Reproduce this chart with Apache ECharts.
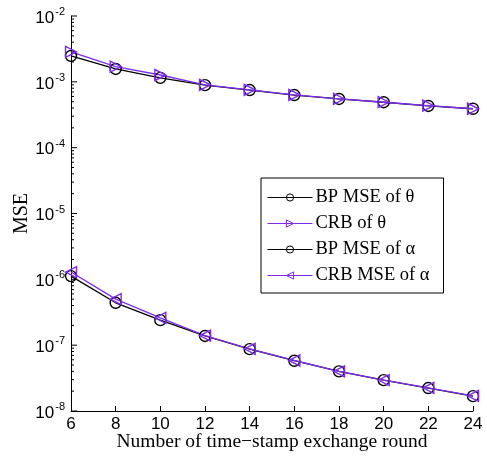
<!DOCTYPE html>
<html>
<head>
<meta charset="utf-8">
<script src="https://cdn.jsdelivr.net/npm/echarts@6/dist/echarts.min.js"></script>
<style>
  html, body { margin: 0; padding: 0; background: #fff; }
  #main { width: 487px; height: 458px; }
</style>
</head>
<body>
<div id="main"></div>
<script>
const rounds = [6, 8, 10, 12, 14, 16, 18, 20, 22, 24];
const bpTheta = [2.47e-3, 1.57e-3, 1.15e-3, 8.9e-4, 7.5e-4, 6.3e-4, 5.5e-4, 4.9e-4, 4.3e-4, 3.9e-4];
const crbTheta = [2.84e-3, 1.70e-3, 1.27e-3, 9.0e-4, 7.55e-4, 6.35e-4, 5.5e-4, 4.9e-4, 4.35e-4, 3.9e-4];
const bpAlpha = [1.12e-6, 4.4e-7, 2.4e-7, 1.38e-7, 8.7e-8, 5.8e-8, 4.0e-8, 2.94e-8, 2.23e-8, 1.68e-8];
const crbAlpha = [1.29e-6, 5.0e-7, 2.6e-7, 1.40e-7, 8.8e-8, 5.85e-8, 4.0e-8, 2.95e-8, 2.25e-8, 1.70e-8];
const yMajor = [1e-8, 1e-7, 1e-6, 1e-5, 1e-4, 1e-3, 1e-2];

// minor tick positions 2..9 x 10^k
const yMinor = [];
for (let k = -8; k < -2; k++) {
  for (let m = 2; m <= 9; m++) yMinor.push(m * Math.pow(10, k));
}

const purple = '#7f2bef';
const pair = (xs, ys) => xs.map((x, i) => [x, ys[i]]);

const chart = echarts.init(document.getElementById('main'));

const lineSeries = (name, ys, color, symbol, rot) => ({
  name: name, type: 'line', data: pair(rounds, ys),
  symbol: symbol, symbolRotate: rot, symbolSize: 11, showAllSymbol: true,
  lineStyle: { color: color, width: 1.3 },
  itemStyle: { color: 'none', borderColor: color, borderWidth: 1.4 }
});

// y ticks drawn inward from the left axis (log minor ticks)
const tickData = yMajor.map(v => [6, v, 6]).concat(yMinor.map(v => [6, v, 3]));

const option = {
  animation: false,
  grid: { left: 71, right: 14, top: 16, bottom: 47, outerBoundsMode: 'none' },
  legend: {
    left: 261, top: 178,
    orient: 'vertical',
    backgroundColor: '#fff',
    borderColor: '#000',
    borderWidth: 1,
    padding: [10, 14, 8, 6],
    itemWidth: 45,
    itemHeight: 9,
    itemGap: 7,
    lineStyle: { width: 1 },
    itemStyle: { borderWidth: 1 },
    textStyle: { fontFamily: 'Liberation Serif', fontSize: 18.5, color: '#000', padding: [0, 0, 0, -2] },
    data: ['BP MSE of θ', 'CRB of θ', 'BP MSE of α', 'CRB MSE of α']
  },
  xAxis: {
    type: 'value',
    min: 6, max: 24, interval: 2,
    name: 'Number of time\u2212stamp exchange round',
    nameLocation: 'middle',
    nameGap: 21,
    nameMoveOverlap: false,
    nameTextStyle: { fontFamily: 'Liberation Serif', fontSize: 19.5, color: '#000' },
    axisLine: { show: true, lineStyle: { color: '#000', width: 1 } },
    axisTick: { show: true, inside: true, length: 5, lineStyle: { color: '#000' } },
    axisLabel: { fontFamily: 'Liberation Sans', fontSize: 17, color: '#000', margin: 5 },
    splitLine: { show: false }
  },
  yAxis: {
    type: 'log',
    logBase: 10,
    min: 1e-8, max: 1e-2,
    name: 'MSE',
    nameLocation: 'middle',
    nameGap: 39,
    nameMoveOverlap: false,
    nameTextStyle: { fontFamily: 'Liberation Serif', fontSize: 20, color: '#000' },
    axisLine: { show: true, lineStyle: { color: '#000', width: 1 } },
    axisTick: { show: false },
    axisLabel: {
      customValues: yMajor,
      margin: 6,
      formatter: v => '{b|10}{s|' + Math.round(Math.log10(v)) + '}',
      rich: {
        b: { fontFamily: 'Liberation Sans', fontSize: 17, color: '#000', padding: [4, 0, 0, 0] },
        s: { fontFamily: 'Liberation Sans', fontSize: 11, color: '#000', padding: [0, 0, 8, 1] }
      }
    },
    splitLine: { show: false }
  },
  series: [
    {
      type: 'custom', silent: true, clip: false,
      data: tickData,
      encode: { x: 0, y: 1 },
      renderItem: (params, api) => {
        const p = api.coord([api.value(0), api.value(1)]);
        return {
          type: 'line',
          shape: { x1: p[0], y1: p[1], x2: p[0] + api.value(2), y2: p[1] },
          style: { stroke: '#000', lineWidth: 1 }
        };
      }
    },
    lineSeries('BP MSE of θ', bpTheta, '#000', 'circle', 0),
    lineSeries('BP MSE of α', bpAlpha, '#000', 'circle', 0),
    lineSeries('CRB of θ', crbTheta, purple, 'triangle', -90),
    lineSeries('CRB MSE of α', crbAlpha, purple, 'triangle', 90)
  ]
};

chart.setOption(option);
</script>
</body>
</html>
